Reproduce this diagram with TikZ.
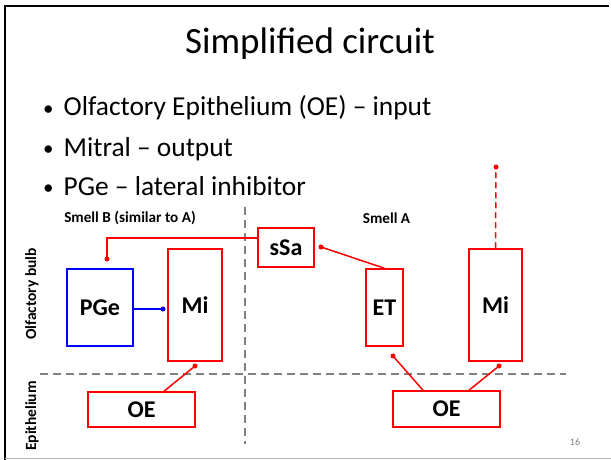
\documentclass[tikz,border=0pt]{standalone}
\usepackage{fontspec}
\setmainfont{Carlito}
\definecolor{pred}{RGB}{255,0,0}
\definecolor{pblue}{RGB}{0,0,255}
\definecolor{dgray}{RGB}{128,128,128}
\newcommand{\smallbullet}{\raisebox{1pt}{\fontsize{21}{22}\selectfont •}}
\begin{document}
\begin{tikzpicture}[x=1pt,y=-1pt,
  cell/.style={draw=pred, line width=1.5pt, inner sep=0pt, font=\fontsize{24}{26}\selectfont\bfseries},
  bluecell/.style={cell, draw=pblue},
  wire/.style={draw=pred, line width=1.5pt},
  bluewire/.style={draw=pblue, line width=1.5pt},
  dot/.style={circle, fill=pred, inner sep=0pt, minimum size=5pt},
  bluedot/.style={dot, fill=pblue},
  divider/.style={draw=dgray, line width=2pt, dash pattern=on 8pt off 5pt},
  sidelabel/.style={rotate=90, font=\fontsize{15.5}{17}\selectfont\bfseries},
  toplabel/.style={font=\fontsize{15.2}{17}\selectfont\bfseries},
  bullet/.style={anchor=base west, font=\fontsize{27.4}{30}\selectfont, inner sep=0pt}
]
\useasboundingbox (0,0) rectangle (611,460);
% frame
\draw[line width=2.5pt] (5,460) -- (5,6) -- (609,6);
\draw[dgray!60, line width=1pt] (5,458.5) -- (611,458.5);
% title and bullets
\node[font=\fontsize{37}{40}\selectfont, inner sep=0pt] (title) at (310,44) {Simplified circuit};
\node[bullet] (b1) at (43,116) {\smallbullet\hspace{10pt}Olfactory Epithelium (OE) – input};
\node[bullet] (b2) at (43,156) {\smallbullet\hspace{10pt}Mitral – output};
\node[bullet] (b3) at (43,195.5) {\smallbullet\hspace{10pt}PGe – lateral inhibitor};
% dividers
\draw[divider] (245,207) -- (245,444);
\draw[divider] (40,373.5) -- (566,373.5);
% labels
\node[toplabel] (smellB) at (130,218) {Smell B (similar to A)};
\node[toplabel] (smellA) at (386.5,218) {Smell A};
\node[sidelabel] (bulb) at (32,294) {Olfactory bulb};
\node[sidelabel] (epi) at (32,416) {Epithelium};
\node[font=\fontsize{10}{12}\selectfont, text=dgray] (page) at (575,442) {16};
% boxes
\node[cell, minimum width=56pt, minimum height=39pt] (sSa) at (286,247.5) {sSa};
\node[bluecell, minimum width=66pt, minimum height=77pt] (PGe) at (100,307.5) {PGe};
\node[cell, minimum width=54pt, minimum height=112pt] (MiL) at (195,305) {Mi};
\node[cell, minimum width=107pt, minimum height=35pt] (OEL) at (141.5,409.5) {OE};
\node[cell, minimum width=37pt, minimum height=77pt] (ET) at (384.5,307.5) {ET};
\node[cell, minimum width=53pt, minimum height=112pt] (MiR) at (495.5,305) {Mi};
\node[cell, minimum width=107pt, minimum height=36pt] (OER) at (446.5,409) {OE};
% synapse dots
\node[dot] (dPGe) at (107,259) {};
\node[bluedot] (dMiL) at (163,309) {};
\node[dot] (dMiLb) at (195,366) {};
\node[dot] (dsSa) at (321,247) {};
\node[dot] (dET) at (393,356) {};
\node[dot] (dMiRb) at (499,366) {};
\node[dot] (dMiRt) at (496,167) {};
% connectors
\draw[wire] ([yshift=9.5pt]sSa.west) -| (dPGe.center);
\draw[bluewire] (PGe.east |- dMiL) -- (dMiL.center);
\draw[wire] (OEL.north -| 164,0) -- (dMiLb.center);
\draw[wire] (dsSa.center) -- (ET.north);
\draw[wire] (dET.center) -- (423,391 |- OER.north);
\draw[wire] (dMiRb.center) -- (469,391 |- OER.north);
\draw[wire, dash pattern=on 6pt off 4pt] (MiR.north) -- (dMiRt.center);
\end{tikzpicture}
\end{document}
